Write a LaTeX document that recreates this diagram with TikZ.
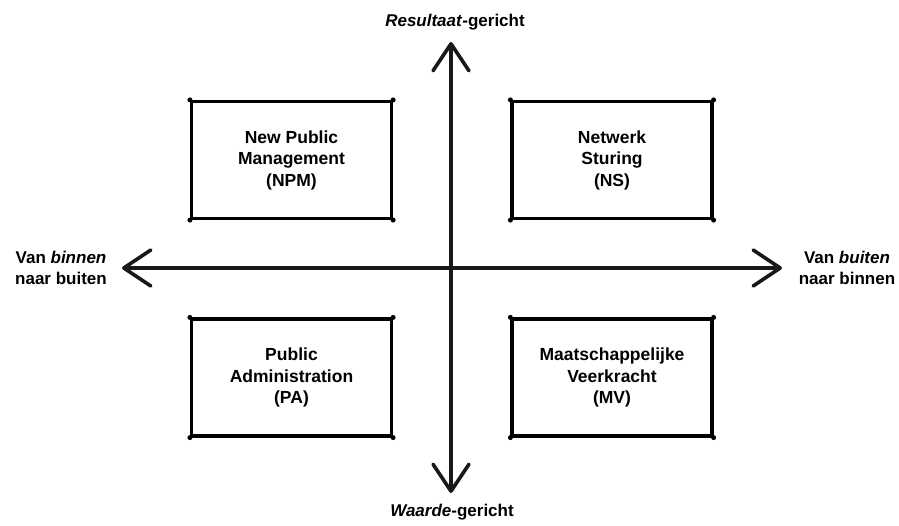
\documentclass[tikz,border=0pt]{standalone}
\usepackage{fontspec}
\setmainfont{Liberation Sans}
\usetikzlibrary{arrows.meta}
\tikzset{
  box/.style={draw=black, line width=3.2pt, line join=round, minimum width=200pt, minimum height=117pt, align=center, inner sep=0pt, font=\bfseries\fontsize{17.5}{21.5}\selectfont},
  axis/.style={draw=black!90, line width=3.4pt, line cap=round, {Straight Barb[length=27pt,width=36pt,line width=3.6pt,round]}-{Straight Barb[length=27pt,width=36pt,line width=3.6pt,round]}},
  lbl/.style={align=center, inner sep=0pt, font=\bfseries\fontsize{17}{21}\selectfont},
  cdot/.style={fill=black, circle, inner sep=0pt, minimum size=5pt}
}
\begin{document}
\begin{tikzpicture}[x=1pt,y=-1pt]
\useasboundingbox (0,0) rectangle (899,526);
\node[box] (npm) at (291.5,160) {New Public\\Management\\(NPM)};
\node[box] (ns) at (612,160) {Netwerk\\Sturing\\(NS)};
\node[box] (pa) at (291.5,377.5) {Public\\Administration\\(PA)};
\node[box] (mv) at (612,377.5) {Maatschappelijke\\Veerkracht\\(MV)};
\foreach \b in {npm,ns,pa,mv}{
  \foreach \c in {north west,north east,south west,south east}{
    \node[cdot] at (\b.\c) {};
  }
}
\coordinate (L) at (122,268);
\coordinate (R) at (782,268);
\coordinate (T) at (451,42);
\coordinate (B) at (451,493);
\draw[axis] (L) -- (R);
\draw[axis] (T) -- (B);
\node[lbl] (ll) at (61,268) {Van \textit{binnen}\\naar buiten};
\node[lbl] (rl) at (847,268) {Van \textit{buiten}\\naar binnen};
\node[lbl] (tl) at (455,22) {\textit{Resultaat}-gericht};
\node[lbl] (bl) at (452,512) {\textit{Waarde}-gericht};
\end{tikzpicture}
\end{document}
